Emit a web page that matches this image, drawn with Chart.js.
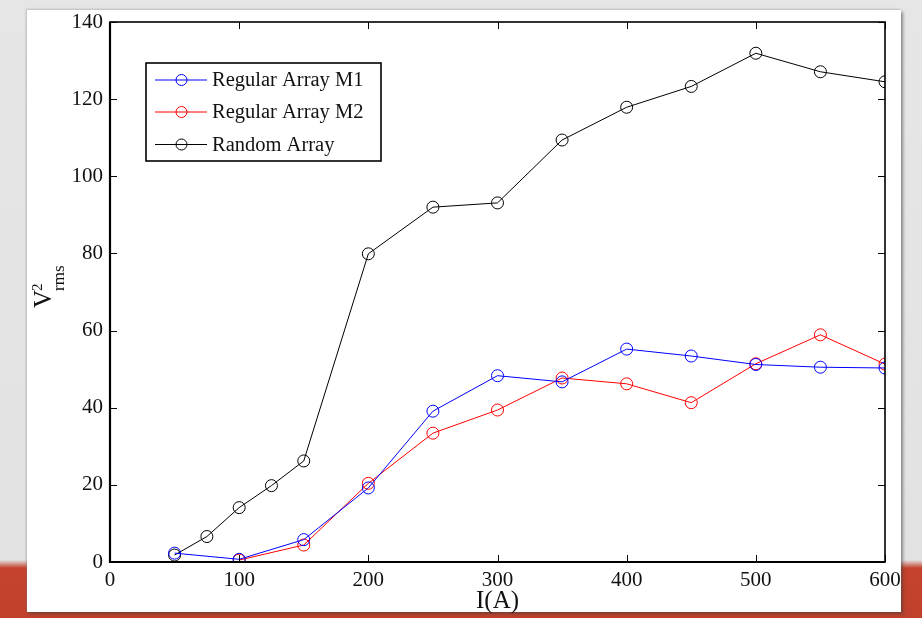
<!DOCTYPE html>
<html>
<head>
<meta charset="utf-8">
<script src="https://cdn.jsdelivr.net/npm/chart.js@4/dist/chart.umd.min.js"></script>
<style>
  html, body { margin: 0; padding: 0; }
  body { width: 922px; height: 618px; position: relative; overflow: hidden;
         background: linear-gradient(to bottom, #e6e6e6 0px, #e2e2e2 560px, #c5432f 568px, #c0402d 618px); }
  #card { position: absolute; left: 27px; top: 10px; width: 874px; height: 602px; background: #ffffff;
          box-shadow: 2px 2px 3px rgba(60,60,60,0.55), -1px -1px 2px rgba(120,120,120,0.35); }
  #wrap { position: absolute; left: 0; top: 0; width: 922px; height: 618px; }
</style>
</head>
<body>
<div id="card"></div>
<div id="wrap"><canvas id="c" width="922" height="618"></canvas></div>
<script>
// ---- data ----
const currentRegular = [50, 100, 150, 200, 250, 300, 350, 400, 450, 500, 550, 600];
const regularM1 = [2.3, 0.7, 5.8, 19.2, 39.1, 48.3, 46.7, 55.2, 53.4, 51.2, 50.5, 50.3];
const regularM2 = [null, 0.5, 4.4, 20.4, 33.4, 39.4, 47.7, 46.2, 41.3, 51.4, 58.9, 51.3];
const currentRandom = [50, 75, 100, 125, 150, 200, 250, 300, 350, 400, 450, 500, 550, 600];
const randomArray = [1.8, 6.6, 14.1, 19.8, 26.2, 79.9, 92.0, 93.1, 109.4, 117.9, 123.3, 131.9, 127.1, 124.5];
const seriesLabels = ["Regular Array M1", "Regular Array M2", "Random Array"];
const xTicks = [0, 100, 200, 300, 400, 500, 600];
const yTicks = [0, 20, 40, 60, 80, 100, 120, 140];
const xTitle = "I(A)";
const yTitleParts = ["V", "2", "rms"];

const toPts = (xs, ys) => xs.map((x, i) => ({ x: x, y: ys[i] })).filter(p => p.y !== null);

const serif = "'Liberation Serif', 'Times New Roman', serif";

function ds(label, pts, color) {
  return {
    label: label, data: pts, borderColor: color, backgroundColor: 'rgba(0,0,0,0)',
    borderWidth: 1, pointRadius: 6, pointHoverRadius: 6, pointBorderWidth: 1,
    pointBorderColor: color, pointBackgroundColor: 'rgba(0,0,0,0)', tension: 0, fill: false
  };
}

const boxPlugin = {
  id: 'boxPlugin',
  afterDatasetsDraw(chart) {
    const ctx = chart.ctx, a = chart.chartArea;
    const xs = chart.scales.x, ys = chart.scales.y;
    ctx.save();
    ctx.strokeStyle = '#000';
    // ticks inward on all sides
    ctx.lineWidth = 1;
    const tl = 7;
    ctx.beginPath();
    xTicks.forEach(v => {
      const px = Math.round(xs.getPixelForValue(v)) + 0.5;
      ctx.moveTo(px, a.bottom); ctx.lineTo(px, a.bottom - tl);
      ctx.moveTo(px, a.top); ctx.lineTo(px, a.top + tl);
    });
    yTicks.forEach(v => {
      const py = Math.round(ys.getPixelForValue(v)) + 0.5;
      ctx.moveTo(a.left, py); ctx.lineTo(a.left + tl, py);
      ctx.moveTo(a.right, py); ctx.lineTo(a.right - tl, py);
    });
    ctx.stroke();
    // frame
    ctx.lineWidth = 1.6;
    ctx.strokeRect(a.left, a.top, a.right - a.left, a.bottom - a.top);
    ctx.lineWidth = 2.2;
    ctx.beginPath();
    ctx.moveTo(a.left, a.top); ctx.lineTo(a.left, a.bottom); ctx.lineTo(a.right, a.bottom);
    ctx.stroke();

    // legend box
    const lx = 146, ly = 63, lw = 235, lh = 98;
    ctx.fillStyle = '#fff';
    ctx.fillRect(lx, ly, lw, lh);
    ctx.lineWidth = 1.6;
    ctx.strokeRect(lx, ly, lw, lh);
    const rows = [80, 112, 144.5];
    ctx.font = '20.5px ' + serif;
    ctx.textBaseline = 'middle';
    chart.data.datasets.forEach((d, i) => {
      const y = rows[i];
      ctx.strokeStyle = d.borderColor;
      ctx.lineWidth = 1;
      ctx.beginPath();
      ctx.moveTo(155, y); ctx.lineTo(207, y); ctx.stroke();
      ctx.beginPath();
      ctx.arc(181.5, y, 5.5, 0, Math.PI * 2); ctx.stroke();
      ctx.fillStyle = '#111';
      ctx.fillText(d.label, 212, y + 1);
    });

    // y axis title: V^2_rms, rotated
    ctx.fillStyle = '#111';
    ctx.textBaseline = 'alphabetic';
    ctx.translate(0, 0);
    const startY = 308;
    // V
    ctx.save();
    ctx.translate(51, startY); ctx.rotate(-Math.PI / 2);
    ctx.font = '25px ' + serif;
    ctx.fillText(yTitleParts[0], 0, 0);
    const vw = ctx.measureText(yTitleParts[0]).width;
    ctx.restore();
    // superscript 2
    ctx.save();
    ctx.translate(42, startY - vw + 1); ctx.rotate(-Math.PI / 2);
    ctx.font = '15px ' + serif;
    ctx.fillText(yTitleParts[1], 0, 0);
    ctx.restore();
    // subscript rms
    ctx.save();
    ctx.translate(64, startY - vw + 1); ctx.rotate(-Math.PI / 2);
    ctx.font = '17px ' + serif;
    ctx.fillText(yTitleParts[2], 0, 0);
    ctx.restore();

    ctx.restore();
  }
};

new Chart(document.getElementById('c'), {
  type: 'line',
  data: {
    datasets: [
      ds(seriesLabels[0], toPts(currentRegular, regularM1), '#0000ff'),
      ds(seriesLabels[1], toPts(currentRegular, regularM2), '#ff0000'),
      ds(seriesLabels[2], toPts(currentRandom, randomArray), '#000000')
    ]
  },
  options: {
    responsive: false, animation: false, devicePixelRatio: 1,
    layout: { padding: { top: 22, right: 37, left: 0, bottom: 0 } },
    plugins: { legend: { display: false }, tooltip: { enabled: false } },
    elements: { line: { borderWidth: 1 } },
    scales: {
      x: {
        type: 'linear', min: 0, max: 600,
        afterBuildTicks: s => { s.ticks = xTicks.map(v => ({ value: v })); },
        afterFit: s => { s.height = 56; },
        grid: { display: false, drawTicks: false },
        border: { display: false },
        ticks: { padding: 6, color: '#111', font: { family: serif, size: 21 }, maxRotation: 0, autoSkip: false },
        title: { display: true, text: xTitle, color: '#111', font: { family: serif, size: 25 }, padding: { top: 0, bottom: 2 } }
      },
      y: {
        type: 'linear', min: 0, max: 140,
        afterBuildTicks: s => { s.ticks = yTicks.map(v => ({ value: v })); },
        afterFit: s => { s.width = 110; },
        grid: { display: false, drawTicks: false },
        border: { display: false },
        ticks: { padding: 7, color: '#111', font: { family: serif, size: 21 }, autoSkip: false }
      }
    }
  },
  plugins: [boxPlugin]
});
</script>
</body>
</html>
